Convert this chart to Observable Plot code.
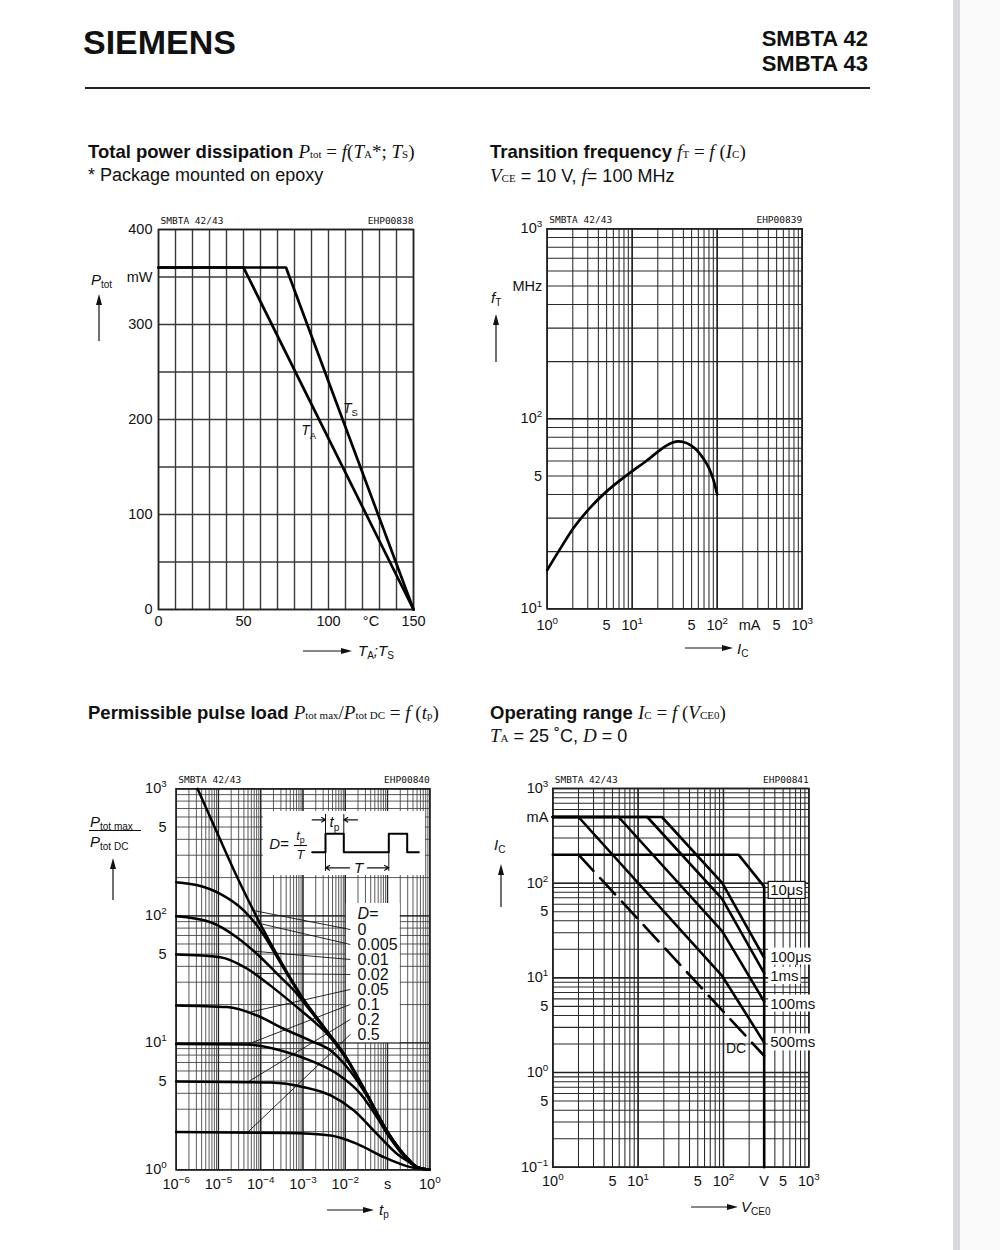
<!DOCTYPE html>
<html>
<head>
<meta charset="utf-8">
<script src="https://cdn.jsdelivr.net/npm/d3@7"></script>
<script src="https://cdn.jsdelivr.net/npm/@observablehq/plot@0.6"></script>
<style>
html,body{margin:0;padding:0;background:#fff;}
#page{position:relative;width:1000px;height:1250px;background:#fff;overflow:hidden;font-family:'Liberation Sans',Arial,Helvetica,sans-serif;color:#111;}
.abs{position:absolute;white-space:nowrap;line-height:1;}
.hdr{font-weight:bold;}
.ttl{font-size:18.5px;}
.ttl b{font-weight:bold;}
.sub{font-size:18px;}
.fx{font-family:'Liberation Serif','Times New Roman',serif;font-weight:normal;font-size:19px;}
.fx small{font-size:11px;font-style:normal;}
.ax{font-size:15px;font-style:italic;}
.ax sub{font-size:10px;font-style:normal;vertical-align:-0.25em;}
</style>
</head>
<body>
<div id="page">
  <div class="abs" style="left:953px;top:0;width:7px;height:1250px;background:#d8d9dc"></div>
  <div class="abs" style="left:960px;top:0;width:40px;height:1250px;background:#fafafa"></div>

  <div class="abs hdr" style="left:83px;top:25px;font-size:34px;">SIEMENS</div>
  <div class="abs hdr" style="right:132px;top:28px;font-size:22px;text-align:right">SMBTA 42</div>
  <div class="abs hdr" style="right:132px;top:53px;font-size:22px;text-align:right">SMBTA 43</div>
  <div class="abs" style="left:85px;top:87px;width:785px;height:2px;background:#222"></div>

  <div class="abs ttl" style="left:88px;top:142px"><b>Total power dissipation</b> <span class="fx"><i>P</i><small>tot</small> = <i>f</i>(<i>T</i><small>A</small>*; <i>T</i><small>S</small>)</span></div>
  <div class="abs sub" style="left:88px;top:166px">* Package mounted on epoxy</div>

  <div class="abs ttl" style="left:490px;top:142px"><b>Transition frequency</b> <span class="fx"><i>f</i><small>T</small> = <i>f</i> (<i>I</i><small>C</small>)</span></div>
  <div class="abs sub" style="left:490px;top:166px"><span class="fx"><i>V</i><small>CE</small></span> = 10 V, <span class="fx"><i>f</i></span>= 100 MHz</div>

  <div class="abs ttl" style="left:88px;top:703px"><b>Permissible pulse load</b> <span class="fx"><i>P</i><small>tot max</small>/<i>P</i><small>tot DC</small> = <i>f</i> (<i>t</i><small>p</small>)</span></div>

  <div class="abs ttl" style="left:490px;top:703px"><b>Operating range</b> <span class="fx"><i>I</i><small>C</small> = <i>f</i> (<i>V</i><small>CE0</small>)</span></div>
  <div class="abs sub" style="left:490px;top:726px"><span class="fx"><i>T</i><small>A</small></span> = 25 ˚C, <span class="fx"><i>D</i></span> = 0</div>

  <!-- axis titles -->
  <div class="abs ax" style="left:91px;top:272px"><i>P</i><sub>tot</sub></div>
  <div class="abs ax" style="left:358px;top:643px"><i>T</i><sub>A</sub>;<i>T</i><sub>S</sub></div>
  <div class="abs ax" style="left:491px;top:290px"><i>f</i><sub>T</sub></div>
  <div class="abs ax" style="left:737px;top:641px"><i>I</i><sub>C</sub></div>
  <div class="abs ax" style="left:90px;top:814px"><i>P</i><sub>tot max</sub></div>
  <div class="abs" style="left:89px;top:830px;width:52px;height:0;border-top:1.3px solid #111"></div>
  <div class="abs ax" style="left:90px;top:834px"><i>P</i><sub>tot DC</sub></div>
  <div class="abs ax" style="left:379px;top:1202px"><i>t</i><sub>p</sub></div>
  <div class="abs ax" style="left:494px;top:837px"><i>I</i><sub>C</sub></div>
  <div class="abs ax" style="left:741px;top:1199px"><i>V</i><sub>CE0</sub></div>
</div>
<script>
// ================= DATA =================
const partLabel = "SMBTA 42/43";
const figIds = ["EHP00838", "EHP00839", "EHP00840", "EHP00841"];

// Chart 1: total power dissipation Ptot (mW) vs temperature (°C)
const ptotTA_temp = [0, 50, 150];
const ptotTA_mW   = [360, 360, 0];
const ptotTS_temp = [0, 75, 150];
const ptotTS_mW   = [360, 360, 0];
const c1CurveLabels = ["T_{A}", "T_{S}"];
const c1XTicks  = [0, 50, 100, 125, 150];
const c1XLabels = ["0", "50", "100", "°C", "150"];
const c1YTicks  = [0, 100, 200, 300, 350, 400];
const c1YLabels = ["0", "100", "200", "300", "mW", "400"];

// Chart 2: transition frequency fT (MHz) vs IC (mA)
const fT_IC_mA = [1, 1.5, 2, 3, 5, 7, 10, 15, 20, 25, 30, 35, 40, 50, 60, 70, 80, 90, 100];
const fT_MHz   = [16, 21.5, 26.3, 33, 41.5, 47, 53, 60.5, 67, 72, 75, 76, 75.5, 72, 67, 61, 55, 48, 40];
const c2XTicks  = [1, 5, 10, 50, 100, 240, 500, 1000];
const c2XLabels = ["10^{0}", "5", "10^{1}", "5", "10^{2}", "mA", "5", "10^{3}"];
const c2YTicks  = [10, 50, 100, 500, 1000];
const c2YLabels = ["10^{1}", "5", "10^{2}", "MHz", "10^{3}"];

// Chart 3: permissible pulse load Ptot max / Ptot DC vs tp (s)
const dutyLabels = ["0", "0.005", "0.01", "0.02", "0.05", "0.1", "0.2", "0.5"];
const pulseD0_tp   = [3.2e-6, 1e-5, 3.2e-5, 1e-4, 3.2e-4, 1e-3, 3.2e-3, 1e-2, 3.2e-2, 0.1, 0.32, 0.5, 1];
const pulseD0_r    = [1000, 427, 182, 85, 42, 22.4, 13.2, 7.9, 4.0, 2.0, 1.2, 1.05, 1];
const pulseD005_tp = [1e-6, 3.2e-6, 1.1e-5, 4e-5, 1e-4, 3.2e-4, 1e-3, 3.2e-3, 1e-2, 3.2e-2, 0.1, 0.32, 0.5, 1];
const pulseD005_r  = [184, 174, 149, 110, 76.6, 40.5, 22.0, 13.1, 7.85, 3.98, 1.99, 1.2, 1.05, 1];
const pulseD01_tp  = [1e-6, 6.5e-6, 2.75e-5, 8.2e-5, 2.45e-4, 7.2e-4, 1e-3, 3.2e-3, 1e-2, 3.2e-2, 0.1, 0.32, 0.5, 1];
const pulseD01_r   = [99, 89, 67.6, 50, 34.9, 24.3, 21.2, 12.9, 7.8, 3.95, 1.98, 1.19, 1.05, 1];
const pulseD02_tp  = [1e-6, 1.1e-5, 4.8e-5, 1.7e-4, 7.2e-4, 2.1e-3, 3.2e-3, 1e-2, 3.2e-2, 0.1, 0.32, 0.5, 1];
const pulseD02_r   = [49.5, 47.2, 38.3, 28.2, 19.1, 14.1, 12.4, 7.7, 3.93, 1.97, 1.19, 1.05, 1];
const pulseD05_tp  = [1e-6, 1.6e-5, 8.2e-5, 3.5e-4, 1.5e-3, 4.5e-3, 1.3e-2, 3.2e-2, 0.1, 0.32, 0.5, 1];
const pulseD05_r   = [19.7, 19.1, 16.4, 12.9, 10.4, 8.7, 6.0, 3.85, 1.95, 1.18, 1.05, 1];
const pulseD1_tp   = [1e-6, 4.8e-5, 3e-4, 1.5e-3, 6.4e-3, 2.3e-2, 5.6e-2, 0.1, 0.32, 0.5, 1];
const pulseD1_r    = [9.8, 9.7, 8.7, 7.25, 5.7, 3.96, 2.6, 1.9, 1.17, 1.05, 1];
const pulseD2_tp   = [1e-6, 1.7e-4, 1.05e-3, 4.5e-3, 1.6e-2, 5.6e-2, 0.166, 0.32, 0.5, 1];
const pulseD2_r    = [4.95, 4.86, 4.47, 3.85, 2.93, 1.92, 1.34, 1.15, 1.04, 1];
const pulseD5_tp   = [1e-6, 4.2e-4, 4.5e-3, 1.9e-2, 8.1e-2, 0.35, 1];
const pulseD5_r    = [1.98, 1.95, 1.86, 1.6, 1.26, 1.05, 1];
const c3XTicks  = [1e-6, 1e-5, 1e-4, 1e-3, 1e-2, 1e-1, 1];
const c3XLabels = ["10^{−6}", "10^{−5}", "10^{−4}", "10^{−3}", "10^{−2}", "s", "10^{0}"];
const c3YTicks  = [1, 5, 10, 50, 100, 500, 1000];
const c3YLabels = ["10^{0}", "5", "10^{1}", "5", "10^{2}", "5", "10^{3}"];
// pulse schematic of the inset (its own units)
const pulseWaveX = [48.7, 62, 62, 80.3, 80.3, 125.3, 125.3, 143.7, 143.7, 155.3];
const pulseWaveY = [40.7, 40.7, 22.3, 22.3, 40.7, 40.7, 22.3, 22.3, 40.7, 40.7];

// Chart 4: operating range IC (mA) vs VCE0 (V)
const soa10us_V    = [1, 150, 300, 300];
const soa10us_mA   = [200, 200, 92, 0.1];
const soa100us_V   = [1, 19, 97, 300];
const soa100us_mA  = [500, 500, 100, 16.3];
const soa1ms_V     = [1, 12.8, 97, 300];
const soa1ms_mA    = [500, 500, 68, 11.2];
const soa100ms_V   = [1, 5.9, 97, 300];
const soa100ms_mA  = [500, 500, 31, 5.6];
const soa500ms_V   = [1, 2, 97, 300];
const soa500ms_mA  = [500, 500, 10.4, 2.07];
const soaDC_V      = [2, 300];
const soaDC_mA     = [200, 1.5];
const soaLabels = ["10μs", "100μs", "1ms", "100ms", "500ms", "DC"];
const c4XTicks  = [1, 5, 10, 50, 100, 300, 500, 1000];
const c4XLabels = ["10^{0}", "5", "10^{1}", "5", "10^{2}", "V", "5", "10^{3}"];
const c4YTicks  = [0.1, 0.5, 1, 5, 10, 50, 100, 500, 1000];
const c4YLabels = ["10^{−1}", "5", "10^{0}", "5", "10^{1}", "5", "10^{2}", "mA", "10^{3}"];

// ================= HELPERS =================
const NS = "http://www.w3.org/2000/svg";
const page = document.getElementById("page");
const FONT = "'Liberation Sans', Arial, Helvetica, sans-serif";
const MONO = "'DejaVu Sans Mono', 'Liberation Mono', monospace";
const INK = "#111";
const baseStyle = {fontFamily: FONT, fontSize: "14.5px", background: "transparent", overflow: "visible", color: INK};

function mount(svg, left, top, w) {
  const d = document.createElement("div");
  d.style.cssText = `position:absolute;left:${left}px;top:${top}px;width:${w}px;`;
  d.appendChild(svg);
  page.appendChild(d);
  return svg;
}
function logTicks(e0, e1) {
  const v = [];
  for (let e = e0; e < e1; e++) for (let m = 1; m < 10; m++) v.push(m * Math.pow(10, e));
  v.push(Math.pow(10, e1));
  return v;
}
function decades(e0, e1) { const v = []; for (let e = e0; e <= e1; e++) v.push(Math.pow(10, e)); return v; }
const idx = a => d3.range(a.length);
function series(xs, ys, opts) { return Plot.line(idx(xs), {x: i => xs[i], y: i => ys[i], stroke: "#000", ...opts}); }
// tick labels drawn as text marks positioned by the chart's own scales
function tickLabelsX(ticks, labels, pad) {
  return Plot.text(idx(ticks), {x: i => ticks[i], text: i => labels[i], frameAnchor: "bottom", lineAnchor: "top", dy: pad});
}
function tickLabelsY(ticks, labels, pad) {
  return Plot.text(idx(ticks), {y: i => ticks[i], text: i => labels[i], frameAnchor: "left", textAnchor: "end", lineAnchor: "middle", dx: -pad});
}
function interpLL(xs, ys, x) {
  for (let i = 0; i < xs.length - 1; i++) {
    if (x >= xs[i] && x <= xs[i + 1]) {
      const t = (Math.log(x) - Math.log(xs[i])) / (Math.log(xs[i + 1]) - Math.log(xs[i]));
      return Math.exp(Math.log(ys[i]) + t * (Math.log(ys[i + 1]) - Math.log(ys[i])));
    }
  }
  return ys[0];
}
function xAtY(xs, ys, y) {
  for (let i = 0; i < xs.length - 1; i++) {
    const a = ys[i], b = ys[i + 1];
    if ((y <= a && y >= b) || (y >= a && y <= b)) {
      if (a === b) continue;
      return xs[i] + (y - a) / (b - a) * (xs[i + 1] - xs[i]);
    }
  }
  return xs[0];
}
function headerMarks(id) {
  return [
    Plot.text([partLabel], {text: d => d, frameAnchor: "top-left", textAnchor: "start", lineAnchor: "bottom", dy: -6, dx: 2, fontFamily: MONO, fontSize: 9.5}),
    Plot.text([id], {text: d => d, frameAnchor: "top-right", textAnchor: "end", lineAnchor: "bottom", dy: -6, fontFamily: MONO, fontSize: 9.5})
  ];
}
// turn ^{..} / _{..} markup into tspans
function richify(root) {
  root.querySelectorAll("text").forEach(t => {
    const s = t.textContent;
    if (!/[\^_]\{/.test(s)) return;
    while (t.firstChild) t.removeChild(t.firstChild);
    const re = /([\^_])\{([^}]*)\}/g;
    let last = 0, m, restore = null;
    const add = (str, kind) => {
      if (!str) return;
      const ts = document.createElementNS(NS, "tspan");
      ts.textContent = str;
      if (kind) {
        ts.setAttribute("font-size", "0.68em");
        ts.setAttribute("font-style", "normal");
        if (kind === "^") { ts.setAttribute("dy", "-0.62em"); restore = "0.42em"; }
        else { ts.setAttribute("dy", "0.38em"); restore = "-0.26em"; }
      } else if (restore) { ts.setAttribute("dy", restore); restore = null; }
      t.appendChild(ts);
    };
    while ((m = re.exec(s))) { add(s.slice(last, m.index)); add(m[2], m[1]); last = re.lastIndex; }
    add(s.slice(last));
  });
}
// white background boxes behind the chosen labels (found by their text)
function boxLabels(svg, labels, bordered) {
  svg.querySelectorAll("text").forEach(t => {
    const txt = t.textContent;
    if (!labels.includes(txt)) return;
    const b = t.getBBox();
    const r = document.createElementNS(NS, "rect");
    r.setAttribute("x", b.x - 2); r.setAttribute("y", b.y);
    r.setAttribute("width", b.width + 4); r.setAttribute("height", b.height);
    r.setAttribute("fill", "#fff");
    if (bordered.includes(txt)) { r.setAttribute("stroke", "#111"); r.setAttribute("stroke-width", "1.2"); }
    if (t.getAttribute("transform")) r.setAttribute("transform", t.getAttribute("transform"));
    t.parentNode.insertBefore(r, t);
  });
}
function vArrow(x, tip, bottom) {
  const h = bottom - tip;
  const s = d3.create("svg").attr("width", 10).attr("height", h)
    .style("position", "absolute").style("left", (x - 5) + "px").style("top", tip + "px").style("overflow", "visible");
  s.append("line").attr("x1", 5).attr("x2", 5).attr("y1", 8).attr("y2", h).attr("stroke", INK).attr("stroke-width", 1.2);
  s.append("path").attr("d", "M5,0L8,11L2,11Z").attr("fill", INK);
  page.appendChild(s.node());
}
function hArrow(y, x0, tip) {
  const w = tip - x0;
  const s = d3.create("svg").attr("width", w).attr("height", 10)
    .style("position", "absolute").style("left", x0 + "px").style("top", (y - 5) + "px").style("overflow", "visible");
  s.append("line").attr("x1", 0).attr("x2", w - 8).attr("y1", 5).attr("y2", 5).attr("stroke", INK).attr("stroke-width", 1.2);
  s.append("path").attr("d", `M${w},5L${w - 11},2L${w - 11},8Z`).attr("fill", INK);
  page.appendChild(s.node());
}

// ================= CHART 1 =================
const c1LabelLayout = [{p: 188, dx: -16}, {p: 212, dx: 12}];
const c1 = Plot.plot({
  width: 360, height: 430, marginLeft: 78, marginRight: 27, marginTop: 29, marginBottom: 21,
  style: baseStyle,
  x: {domain: [0, 150], axis: null}, y: {domain: [0, 400], axis: null},
  marks: [
    Plot.ruleX(d3.range(0, 151, 10), {stroke: "#3a3a3a", strokeWidth: 1.4}),
    Plot.ruleY(d3.range(0, 401, 50), {stroke: "#3a3a3a", strokeWidth: 1.4}),
    Plot.frame({stroke: "#222", strokeWidth: 1.6}),
    series(ptotTA_temp, ptotTA_mW, {strokeWidth: 2.7}),
    series(ptotTS_temp, ptotTS_mW, {strokeWidth: 2.7}),
    Plot.text([c1CurveLabels[0]], {text: d => d, x: xAtY(ptotTA_temp, ptotTA_mW, c1LabelLayout[0].p), y: c1LabelLayout[0].p, dx: c1LabelLayout[0].dx, fontStyle: "italic", fontSize: 14}),
    Plot.text([c1CurveLabels[1]], {text: d => d, x: xAtY(ptotTS_temp, ptotTS_mW, c1LabelLayout[1].p), y: c1LabelLayout[1].p, dx: c1LabelLayout[1].dx, fontStyle: "italic", fontSize: 14}),
    tickLabelsX(c1XTicks, c1XLabels, 6),
    tickLabelsY(c1YTicks, c1YLabels, 6),
    ...headerMarks(figIds[0])
  ]
});
mount(c1, 80, 200, 360);

// ================= CHART 2 =================
const c2 = Plot.plot({
  width: 360, height: 430, marginLeft: 66.7, marginRight: 38.3, marginTop: 28.3, marginBottom: 21.7,
  style: baseStyle,
  x: {type: "log", domain: [1, 1000], axis: null}, y: {type: "log", domain: [10, 1000], axis: null},
  marks: [
    Plot.ruleX(logTicks(0, 3), {stroke: "#2a2a2a", strokeWidth: 1.05}),
    Plot.ruleY(logTicks(1, 3), {stroke: "#2a2a2a", strokeWidth: 1.05}),
    Plot.ruleX(decades(0, 3), {stroke: "#222", strokeWidth: 1.5}),
    Plot.ruleY(decades(1, 3), {stroke: "#222", strokeWidth: 1.5}),
    Plot.frame({stroke: "#222", strokeWidth: 1.6}),
    series(fT_IC_mA, fT_MHz, {strokeWidth: 2.7, curve: "monotone-x"}),
    tickLabelsX(c2XTicks, c2XLabels, 11),
    tickLabelsY(c2YTicks, c2YLabels, 5),
    ...headerMarks(figIds[1])
  ]
});
mount(c2, 480, 200, 360);

// ================= CHART 3 =================
const pulseSeries = [
  [pulseD0_tp, pulseD0_r], [pulseD005_tp, pulseD005_r], [pulseD01_tp, pulseD01_r], [pulseD02_tp, pulseD02_r],
  [pulseD05_tp, pulseD05_r], [pulseD1_tp, pulseD1_r], [pulseD2_tp, pulseD2_r], [pulseD5_tp, pulseD5_r]
];
const layout3 = {labelT: 0.0195, leaderEndT: 0.0132, headP: 104, firstP: 78, stepDec: 0.118,
  leaderUpperT: 6.8e-5, leaderLowerT: 4.8e-5, panel: {x1: 0.0106, x2: 0.2, y1: 10, y2: 125}};
const labelP = dutyLabels.map((_, i) => layout3.firstP / Math.pow(10, layout3.stepDec * i));
const leaders = dutyLabels.map((d, i) => {
  const t = i < 4 ? layout3.leaderUpperT : layout3.leaderLowerT;
  return {x1: t, y1: interpLL(pulseSeries[i][0], pulseSeries[i][1], t), x2: layout3.leaderEndT, y2: labelP[i]};
});
const c3 = Plot.plot({
  width: 360, height: 430, marginLeft: 95.7, marginRight: 10.7, marginTop: 28.3, marginBottom: 20.7,
  style: baseStyle,
  x: {type: "log", domain: [1e-6, 1], axis: null}, y: {type: "log", domain: [1, 1000], axis: null},
  marks: [
    Plot.ruleX(logTicks(-6, 0), {stroke: "#3c3c3c", strokeWidth: 0.85}),
    Plot.ruleY(logTicks(0, 3), {stroke: "#3c3c3c", strokeWidth: 0.85}),
    Plot.ruleX(decades(-6, 0), {stroke: "#222", strokeWidth: 1.3}),
    Plot.ruleY(decades(0, 3), {stroke: "#222", strokeWidth: 1.3}),
    Plot.rect([layout3.panel], {x1: "x1", x2: "x2", y1: "y1", y2: "y2", fill: "#fff"}),
    Plot.link(leaders, {x1: "x1", y1: "y1", x2: "x2", y2: "y2", stroke: "#111", strokeWidth: 0.9}),
    Plot.frame({stroke: "#222", strokeWidth: 1.6}),
    pulseSeries.map(([xs, ys]) => series(xs, ys, {strokeWidth: 2.5, curve: "monotone-x"})),
    Plot.text(["D="], {text: d => d, x: layout3.labelT, y: layout3.headP, textAnchor: "start", fontStyle: "italic", fontSize: 16}),
    Plot.text(dutyLabels, {text: d => d, x: layout3.labelT, y: (d, i) => labelP[i], textAnchor: "start", fontSize: 16}),
    tickLabelsX(c3XTicks, c3XLabels, 9),
    tickLabelsY(c3YTicks, c3YLabels, 9.5),
    ...headerMarks(figIds[2])
  ]
});
mount(c3, 80, 760, 360);

// inset: pulse definition D = tp / T
const inset = Plot.plot({
  width: 162, height: 64, margin: 0,
  style: {...baseStyle, background: "#fff"},
  x: {domain: [0, 162], axis: null}, y: {domain: [0, 64], range: [0, 64], axis: null},
  marks: [
    series(pulseWaveX, pulseWaveY, {strokeWidth: 2}),
    Plot.ruleX([pulseWaveX[1], pulseWaveX[3]], {y1: 3, y2: 22.3, stroke: INK, strokeWidth: 1}),
    Plot.ruleX([pulseWaveX[1], pulseWaveX[5]], {y1: 40.7, y2: 60, stroke: INK, strokeWidth: 1}),
    Plot.arrow([
      {x1: pulseWaveX[0], x2: pulseWaveX[1], y: 8.3}, {x1: 94, x2: pulseWaveX[3], y: 8.3},
      {x1: 86, x2: pulseWaveX[1], y: 56.3}, {x1: 104, x2: pulseWaveX[5], y: 56.3}
    ], {x1: "x1", x2: "x2", y1: "y", y2: "y", headLength: 6, strokeWidth: 1.2, stroke: INK}),
    Plot.text(["t_{p}"], {text: d => d, x: 71, y: 11, fontStyle: "italic", fontSize: 15}),
    Plot.text(["T"], {text: d => d, x: 95, y: 56.3, fontStyle: "italic", fontSize: 15}),
    Plot.text(["D="], {text: d => d, x: 15.5, y: 33, fontStyle: "italic", fontSize: 15}),
    Plot.text(["t_{p}"], {text: d => d, x: 37, y: 24, fontStyle: "italic", fontSize: 13}),
    Plot.ruleY([34], {x1: 31, x2: 44, stroke: INK, strokeWidth: 1.1}),
    Plot.text(["T"], {text: d => d, x: 37, y: 43, fontStyle: "italic", fontSize: 13})
  ]
});
mount(inset, 263, 811, 162);

// ================= CHART 4 =================
const soaSolid = [
  [soa10us_V, soa10us_mA, 2, 4], [soa100us_V, soa100us_mA, 3, -1], [soa1ms_V, soa1ms_mA, 3, 3],
  [soa100ms_V, soa100ms_mA, 3, 2], [soa500ms_V, soa500ms_mA, 3, 0]
];
const c4 = Plot.plot({
  width: 360, height: 430, marginLeft: 72.3, marginRight: 31.7, marginTop: 28, marginBottom: 23.3,
  style: baseStyle,
  x: {type: "log", domain: [1, 1000], axis: null}, y: {type: "log", domain: [0.1, 1000], axis: null},
  marks: [
    Plot.ruleX(logTicks(0, 3), {stroke: "#2a2a2a", strokeWidth: 1.05}),
    Plot.ruleY(logTicks(-1, 3), {stroke: "#2a2a2a", strokeWidth: 1.05}),
    Plot.ruleX(decades(0, 3), {stroke: "#222", strokeWidth: 1.5}),
    Plot.ruleY(decades(-1, 3), {stroke: "#222", strokeWidth: 1.5}),
    Plot.frame({stroke: "#222", strokeWidth: 1.6}),
    soaSolid.map(([xs, ys]) => series(xs, ys, {strokeWidth: 2.6})),
    series(soaDC_V, soaDC_mA, {strokeWidth: 2.6, strokeDasharray: "22,10"}),
    soaSolid.map(([xs, ys, k, dy], i) => Plot.text([soaLabels[i]], {text: d => d, x: xs[k], y: ys[k], dx: 6, dy, textAnchor: "start", fontSize: 15})),
    Plot.text([soaLabels[5]], {text: d => d, x: soaDC_V[1], y: soaDC_mA[1], dx: -18, dy: -7, textAnchor: "end", fontSize: 14}),
    tickLabelsX(c4XTicks, c4XLabels, 9),
    tickLabelsY(c4YTicks, c4YLabels, 4.5),
    ...headerMarks(figIds[3])
  ]
});
mount(c4, 480, 760, 360);

[c1, c2, c3, c4, inset].forEach(richify);
boxLabels(c4, soaLabels.slice(0, 5), ["10μs"]);

// axis arrows
vArrow(99, 294, 341);
hArrow(651, 303, 352);
vArrow(496, 314, 362);
hArrow(648, 685, 733);
vArrow(113, 858, 900);
hArrow(1210, 327, 374);
vArrow(501, 864, 907);
hArrow(1207, 691, 738);
</script>
</body>
</html>
